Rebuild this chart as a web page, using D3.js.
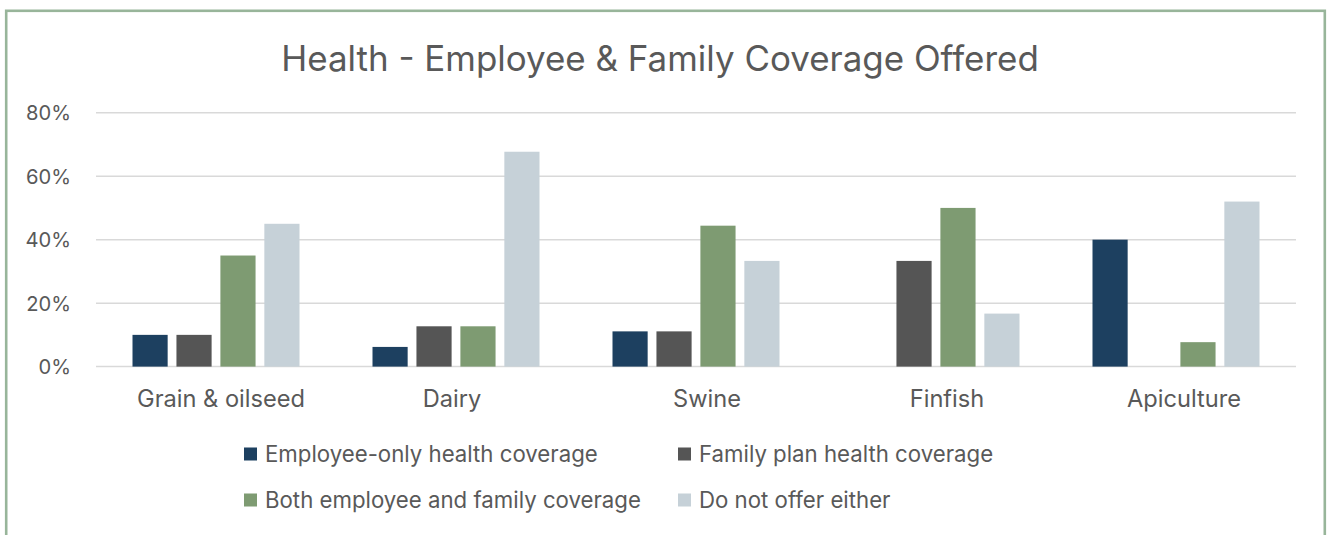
<!DOCTYPE html>
<html>
<head>
<meta charset="utf-8">
<script src="https://cdn.jsdelivr.net/npm/d3@7"></script>
<style>
  html, body { margin: 0; padding: 0; background: #fff; }
  svg { display: block; }
  text { font-family: "Inter", "Lato", "Open Sans", sans-serif; fill: #595959; }
</style>
</head>
<body>
<svg id="chart" width="1327" height="535"></svg>
<script>
const title = "Health - Employee & Family Coverage Offered";
const categories = ["Grain & oilseed", "Dairy", "Swine", "Finfish", "Apiculture"];
const seriesNames = [
  "Employee-only health coverage",
  "Family plan health coverage",
  "Both employee and family coverage",
  "Do not offer either"
];
const employeeOnly = [10, 6.2, 11.1, 0, 40];
const familyPlan   = [10, 12.7, 11.1, 33.3, 0];
const both         = [35, 12.7, 44.4, 50, 7.7];
const neither      = [45, 67.7, 33.3, 16.7, 52];
const seriesValues = [employeeOnly, familyPlan, both, neither];
const colors = ["#1D4060", "#555555", "#7E9B72", "#C6D1D8"];
const yTicks = [0, 20, 40, 60, 80];

const svg = d3.select("#chart");

// chart border
svg.append("rect")
  .attr("x", 6.2).attr("y", 10.8)
  .attr("width", 1318.6).attr("height", 600)
  .attr("fill", "none").attr("stroke", "#98B59A").attr("stroke-width", 2.6);

function fitWidth(sel, target) {
  const w = sel.node().getComputedTextLength();
  const fs = parseFloat(sel.attr("font-size"));
  return fs * target / w;
}

const x0 = d3.scaleBand().domain(categories).range([96, 1296]).paddingInner(0).paddingOuter(0);
const x1 = d3.scaleBand().domain(d3.range(4)).range([36.5, 240 - 36.5]).paddingInner(0.2).paddingOuter(0);
const y = d3.scaleLinear().domain([0, 80]).range([366.6, 112.7]);

// title
const t = svg.append("text")
  .attr("x", 660).attr("y", 71).attr("text-anchor", "middle")
  .attr("font-size", 36).text(title);
t.attr("font-size", fitWidth(t, 758));

// gridlines
svg.append("g").selectAll("line").data(yTicks).join("line")
  .attr("x1", 96).attr("x2", 1296)
  .attr("y1", d => y(d)).attr("y2", d => y(d))
  .attr("stroke", "#D9D9D9").attr("stroke-width", 1.5);

// y axis labels
const yAxis = svg.append("g").attr("transform", "translate(71,0)")
  .call(d3.axisLeft(y).tickValues(yTicks).tickFormat(d => d + "%").tickSize(0).tickPadding(0));
yAxis.select(".domain").remove();
yAxis.attr("font-family", null);
yAxis.selectAll("text").attr("font-size", 20).attr("fill", "#595959").attr("dy", "0.35em");
const yt = yAxis.selectAll("text").filter(d => d === 80);
const yfs = fitWidth(yt, 45);
yAxis.selectAll("text").attr("font-size", yfs);

// bars
const groups = svg.append("g").selectAll("g").data(categories).join("g")
  .attr("transform", c => `translate(${x0(c)},0)`);
groups.selectAll("rect")
  .data((c, i) => seriesValues.map((s, k) => ({ k, v: s[i] })))
  .join("rect")
  .attr("x", d => x1(d.k))
  .attr("width", x1.bandwidth())
  .attr("y", d => y(d.v))
  .attr("height", d => y(0) - y(d.v))
  .attr("fill", d => colors[d.k]);

// x axis labels
const xAxis = svg.append("g").attr("transform", `translate(0,${y(0)})`)
  .call(d3.axisBottom(x0).tickSize(0).tickPadding(0));
xAxis.select(".domain").remove();
xAxis.attr("font-family", null);
xAxis.selectAll("text").attr("font-size", 20).attr("fill", "#595959").attr("y", 32).attr("dy", "0.35em");
const firstCat = xAxis.selectAll("text").filter((d, i) => i === 0);
const xfs = fitWidth(firstCat, 168);
xAxis.selectAll("text").attr("font-size", xfs)
  .attr("transform", (c, i) => `translate(${[5, -4, 11, 11, 8][i]},0)`);

// legend
const legendPos = [[244, 454], [678, 454], [244, 500], [678, 500]];
const lg = svg.append("g").selectAll("g").data(seriesNames).join("g")
  .attr("transform", (d, i) => `translate(${legendPos[i][0]},${legendPos[i][1]})`);
lg.append("rect").attr("x", 0).attr("y", -6.5).attr("width", 13).attr("height", 13)
  .attr("fill", (d, i) => colors[i]);
const lt = lg.append("text").attr("x", 21).attr("y", 0).attr("dy", "0.35em")
  .attr("font-size", 20).text(d => d);
const lfs = fitWidth(lt.filter((d, i) => i === 0), 333);
lt.attr("font-size", lfs);
</script>
</body>
</html>
